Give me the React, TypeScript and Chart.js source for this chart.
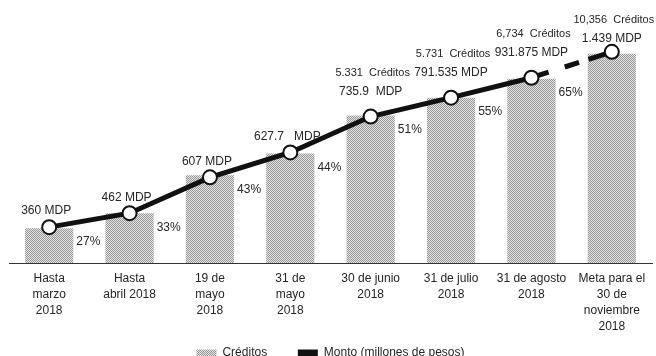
import React, { useEffect, useRef } from "react";
import { Chart, registerables } from "chart.js";

Chart.register(...registerables);

const categories: string[][] = [
  ["Hasta", "marzo", "2018"],
  ["Hasta", "abril 2018"],
  ["19 de", "mayo", "2018"],
  ["31 de", "mayo", "2018"],
  ["30 de junio", "2018"],
  ["31 de julio", "2018"],
  ["31 de agosto", "2018"],
  ["Meta para el", "30 de", "noviembre", "2018"],
];

// bar heights and line heights (chart is not to scale)
const barHeights = [35, 50, 88, 110, 148, 166, 185, 210];
const montoHeights = [36, 50, 86, 111, 147, 166, 186, 212];

const montoLabels = [
  "360 MDP",
  "462 MDP",
  "607 MDP",
  "627.7   MDP",
  "735.9  MDP",
  "791.535 MDP",
  "931.875 MDP",
  "1.439 MDP",
];
const creditLabels = ["", "", "", "", "5.331  Créditos", "5.731  Créditos", "6,734  Créditos", "10,356  Créditos"];
const percentLabels = ["27%", "33%", "43%", "44%", "51%", "55%", "65%", ""];

const FONT = '"Liberation Sans", Arial, sans-serif';
const TEXT = "#262626";

function makePattern(): CanvasPattern | string {
  const c = document.createElement("canvas");
  c.width = 2;
  c.height = 2;
  const g = c.getContext("2d");
  if (!g) return "#bdbdbd";
  g.fillStyle = "#e4e4e4";
  g.fillRect(0, 0, 2, 2);
  g.fillStyle = "#979797";
  g.fillRect(0, 0, 1, 1);
  g.fillRect(1, 1, 1, 1);
  const p = g.createPattern(c, "repeat");
  return p || "#bdbdbd";
}

const labelPlugin = {
  id: "labelPlugin",
  afterDatasetsDraw(chart: any) {
    const ctx = chart.ctx;
    const barMeta = chart.getDatasetMeta(0);
    const lineMeta = chart.getDatasetMeta(1);
    ctx.save();
    ctx.fillStyle = TEXT;
    ctx.textBaseline = "middle";
    ctx.font = `12px ${FONT}`;
    ctx.textAlign = "left";
    barMeta.data.forEach((el: any, i: number) => {
      const t = percentLabels[i];
      if (!t) return;
      ctx.fillText(t, el.x + el.width / 2 + 3, el.y + 14);
    });
    ctx.textAlign = "center";
    lineMeta.data.forEach((pt: any, i: number) => {
      const c = creditLabels[i];
      if (c) {
        const cy = Math.max(20, pt.y - 44);
        ctx.font = `11px ${FONT}`;
        ctx.fillText(c, pt.x + 2, cy);
        ctx.font = `12px ${FONT}`;
        ctx.fillText(montoLabels[i], pt.x, cy + 19);
      } else {
        ctx.font = `12px ${FONT}`;
        ctx.fillText(montoLabels[i], pt.x - 3, pt.y - 16);
      }
    });
    ctx.restore();
  },
};

export default function App() {
  const ref = useRef<HTMLCanvasElement | null>(null);
  useEffect(() => {
    if (!ref.current) return;
    const pattern = makePattern();
    const chart = new Chart(ref.current, {
      type: "bar",
      data: {
        labels: categories as any,
        datasets: [
          {
            type: "bar",
            label: "Créditos",
            data: barHeights,
            backgroundColor: pattern as any,
            borderWidth: 0,
            barPercentage: 0.6,
            categoryPercentage: 1,
            order: 1,
          },
          {
            type: "line",
            label: "Monto (millones de pesos)",
            data: montoHeights,
            borderColor: "#111111",
            borderWidth: 5,
            tension: 0,
            pointRadius: 7,
            pointHoverRadius: 7,
            pointBackgroundColor: "#ffffff",
            pointBorderColor: "#111111",
            pointBorderWidth: 2,
            order: 0,
            segment: {
              borderDash: (c: any) => (c.p1DataIndex === 7 ? [18, 17, 15, 10, 60, 0] : undefined),
            },
          } as any,
        ],
      },
      options: {
        animation: false,
        responsive: true,
        maintainAspectRatio: false,
        layout: { padding: { left: 0, right: 0, top: 0, bottom: -13 } },
        scales: {
          x: {
            offset: true,
            grid: { display: false, drawTicks: false },
            border: { display: true, color: "#333333", width: 1 },
            ticks: {
              maxRotation: 0,
              autoSkip: false,
              padding: 8,
              color: TEXT,
              font: { family: FONT, size: 12, lineHeight: 1.333 },
            },
          },
          y: {
            display: false,
            min: 0,
            max: 255,
          },
        },
        plugins: {
          tooltip: { enabled: false },
          legend: {
            position: "bottom",
            labels: {
              color: TEXT,
              font: { family: FONT, size: 12 },
              boxWidth: 20,
              boxHeight: 7,
              padding: 4,
              generateLabels: () => [
                {
                  text: "Créditos        ",
                  fillStyle: pattern as any,
                  strokeStyle: "rgba(0,0,0,0)",
                  lineWidth: 0,
                  hidden: false,
                  datasetIndex: 0,
                  fontColor: TEXT,
                } as any,
                {
                  text: "Monto (millones de pesos)",
                  fillStyle: "#111111",
                  strokeStyle: "rgba(0,0,0,0)",
                  lineWidth: 0,
                  hidden: false,
                  datasetIndex: 1,
                  fontColor: TEXT,
                } as any,
              ],
            },
          },
        },
      },
      plugins: [labelPlugin],
    });
    return () => chart.destroy();
  }, []);
  return (
    <div style={{ position: "fixed", left: 0, top: 0, width: 661, height: 356, background: "#fff" }}>
      <canvas ref={ref} />
    </div>
  );
}
